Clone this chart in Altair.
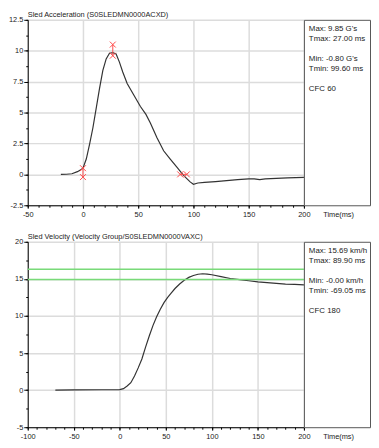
import altair as alt
import pandas as pd

FONT = "Liberation Sans"

# ---- data ----
acc_t = [-20, -15, -10, -5, -2, 0, 3, 6, 9, 12, 15, 18, 21, 24, 27, 30, 33, 36, 40, 46,
         52, 57, 61, 67, 73, 79, 85, 91, 97, 100, 104, 110, 120, 130, 140, 150, 155, 160,
         165, 175, 185, 200]
acc_v = [0, 0.01, 0.05, 0.22, 0.38, 0.5, 1.24, 2.44, 3.77, 5.36, 6.95, 8.41, 9.34, 9.8,
         9.85, 9.74, 9.08, 8.28, 7.35, 6.42, 5.49, 4.85, 4.16, 2.97, 1.91, 1.24, 0.58,
         -0.08, -0.61, -0.8, -0.7, -0.65, -0.58, -0.5, -0.43, -0.36, -0.36, -0.42, -0.37,
         -0.32, -0.28, -0.25]

vel_t = [-70, -50, -20, 0, 4, 8, 12, 16, 20, 24, 28, 32, 36, 40, 44, 48, 52, 56, 60, 65,
         70, 75, 80, 85, 90, 95, 100, 110, 120, 130, 140, 150, 160, 170, 180, 190, 200]
vel_v = [0, 0.03, 0.05, 0.06, 0.2, 0.55, 1.0, 1.9, 3.0, 4.2, 5.8, 7.3, 8.7, 9.9, 10.9,
         11.8, 12.5, 13.1, 13.7, 14.3, 14.8, 15.2, 15.45, 15.62, 15.69, 15.65, 15.55,
         15.3, 15.05, 14.9, 14.75, 14.6, 14.5, 14.4, 14.3, 14.25, 14.2]

acc_mark_t = [0, 0, 27, 27, 88, 94]
acc_mark_v = [0.5, -0.22, 10.5, 9.6, 0, 0]
acc_seg_t1 = [0, 27, 88]
acc_seg_v1 = [-0.22, 9.6, 0]
acc_seg_t2 = [0, 27, 94]
acc_seg_v2 = [0.5, 10.5, 0]

vel_limits = [16.3, 14.9]

acc_x_ticks = [-50, 0, 50, 100, 150, 200]
acc_x_minor = list(range(-50, 201, 10))
acc_y_ticks = [-2.5, 0, 2.5, 5, 7.5, 10, 12.5]
acc_y_minor = [-2.5 + 1.25 * i for i in range(13)]
vel_x_ticks = [-100, -50, 0, 50, 100, 150, 200]
vel_x_minor = list(range(-100, 201, 10))
vel_y_ticks = [-5, 0, 5, 10, 15, 20]
vel_y_minor = [-5 + 2.5 * i for i in range(11)]

acc_title = "Sled Acceleration (S0SLEDMN0000ACXD)"
vel_title = "Sled Velocity (Velocity Group/S0SLEDMN0000VAXC)"
acc_info = ["Max: 9.85 G's", "Tmax: 27.00 ms", "Min: -0.80 G's", "Tmin: 99.60 ms", "CFC 60"]
vel_info = ["Max: 15.69 km/h", "Tmax: 89.90 ms", "Min: -0.00 km/h", "Tmin: -69.05 ms", "CFC 180"]
info_rows = [0, 1, 3, 4, 6]

W, H, INFO_W = 280, 188, 67


def panel(t, v, xdom, ydom, xticks, xminor, yticks, yminor, title, extra):
    df = pd.DataFrame({"t": t, "v": v})
    xs = alt.Scale(domain=xdom, nice=False, zero=False)
    ys = alt.Scale(domain=ydom, nice=False, zero=False)
    major_x = alt.Axis(values=xticks, grid=True, tickSize=3, labelPadding=2,
                       labelFlush=False, orient="bottom", labelExpr="'' + datum.value",
                       title="Time(ms)", titleX=299, titleY=9, titleAlign="left",
                       titleBaseline="middle")
    major_y = alt.Axis(values=yticks, grid=True, tickSize=4, labelPadding=1,
                       orient="left", labelExpr="'' + datum.value", title=None)
    minor_x = alt.Axis(values=xminor, grid=False, labels=False, domain=False,
                       tickSize=2, orient="bottom", title=None)
    minor_y = alt.Axis(values=yminor, grid=False, labels=False, domain=False,
                       tickSize=2, orient="left", title=None)
    line = alt.Chart(df).mark_line(color="#333333", strokeWidth=1.2).encode(
        x=alt.X("t:Q", scale=xs, axis=major_x),
        y=alt.Y("v:Q", scale=ys, axis=major_y),
    )
    minor = alt.Chart(df).mark_line(opacity=0).encode(
        x=alt.X("t:Q", scale=xs, axis=minor_x),
        y=alt.Y("v:Q", scale=ys, axis=minor_y),
    )
    layers = [minor, line] + [e(xs, ys) for e in extra]
    return alt.layer(*layers).resolve_axis(x="independent", y="independent").properties(
        width=W, height=H,
        title=alt.TitleParams(title, anchor="start", frame="group", fontSize=7.5,
                              fontWeight="normal", font=FONT, color="#222222", offset=-3),
    )


def acc_marks(xs, ys):
    seg = pd.DataFrame({"t1": acc_seg_t1, "v1": acc_seg_v1, "t2": acc_seg_t2, "v2": acc_seg_v2})
    pts = pd.DataFrame({"t": acc_mark_t, "v": acc_mark_v})
    rules = alt.Chart(seg).mark_rule(color="#ff4a4a", strokeWidth=1).encode(
        x=alt.X("t1:Q", scale=xs, axis=None), x2="t2:Q",
        y=alt.Y("v1:Q", scale=ys, axis=None), y2="v2:Q",
    )
    xs_marks = alt.Chart(pts).mark_point(
        shape="M-1,-1L1,1M-1,1L1,-1", filled=False, color="#ff4a4a", size=36, strokeWidth=1,
        opacity=1,
    ).encode(x=alt.X("t:Q", scale=xs, axis=None), y=alt.Y("v:Q", scale=ys, axis=None))
    return alt.layer(rules, xs_marks)


def vel_limit_lines(xs, ys):
    lim = pd.DataFrame({"lim": vel_limits})
    return alt.Chart(lim).mark_rule(color="#79da79", strokeWidth=1.5).encode(
        y=alt.Y("lim:Q", scale=ys, axis=None)
    )


def info(lines):
    df = pd.DataFrame({"row": info_rows, "label": lines})
    return alt.Chart(df).mark_text(
        align="left", baseline="middle", fontSize=8, font=FONT, color="#222222"
    ).encode(
        x=alt.value(5),
        y=alt.Y("row:Q", scale=alt.Scale(domain=[0, 1], range=[9, 19.2], nice=False, zero=False),
                axis=None),
        text="label:N",
    ).properties(width=INFO_W, height=H,
                 view=alt.ViewBackground(stroke="#555555", strokeWidth=1, fill="white"))


top_plot = panel(acc_t, acc_v, [-50, 200], [-2.5, 12.5], acc_x_ticks, acc_x_minor,
                 acc_y_ticks, acc_y_minor, acc_title, [acc_marks])
bot_plot = panel(vel_t, vel_v, [-100, 200], [-5, 20], vel_x_ticks, vel_x_minor,
                 vel_y_ticks, vel_y_minor, vel_title, [vel_limit_lines])

chart = alt.concat(
    top_plot, info(acc_info), bot_plot, info(vel_info),
    columns=2, spacing={"row": 37, "column": 0}, bounds="flush",
).properties(
    padding=0, background="white"
).configure_view(strokeWidth=0).configure_axis(
    labelFont=FONT, labelFontSize=7.5, labelColor="#222222",
    titleFont=FONT, titleFontSize=7.5, titleFontWeight="normal", titleColor="#222222",
    domainColor="#000000", domainWidth=1, tickColor="#000000", tickWidth=1,
    gridColor="#dcdcdc", gridWidth=1.5,
)

chart.save("out.html", embed_options={"renderer": "svg", "actions": False})
